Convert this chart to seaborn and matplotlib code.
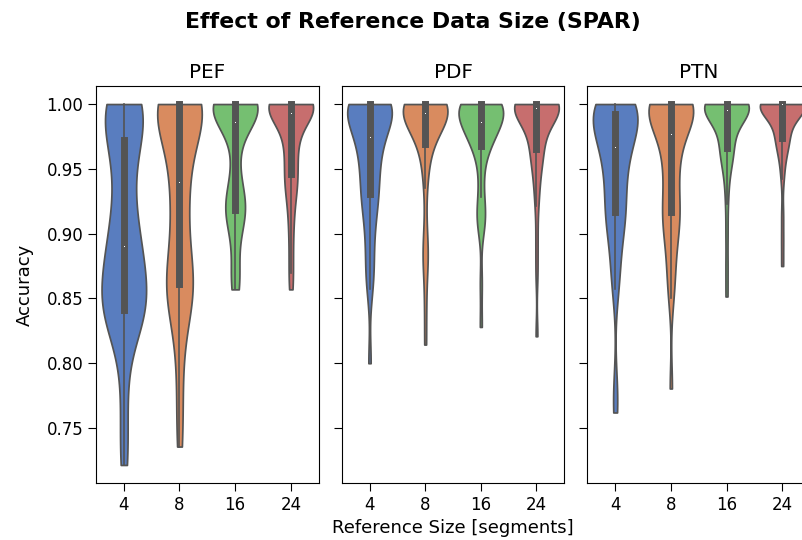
import matplotlib
matplotlib.use("Agg")
import matplotlib.pyplot as plt
import seaborn as sns
import pandas as pd

# ---- data (accuracy samples) ----
sizes = ["4", "8", "16", "24"]
panels = ["PEF", "PDF", "PTN"]

pef_4 = [0.7215, 0.74, 0.77, 0.80, 0.822, 0.832, 0.836, 0.838, 0.839, 0.84,
         0.841,
         0.846, 0.851, 0.856, 0.861, 0.866, 0.871, 0.875, 0.879, 0.884,
         0.8895,
         0.895, 0.901, 0.908, 0.916, 0.925, 0.936, 0.948, 0.958, 0.966,
         0.972,
         0.978, 0.984, 0.99, 0.995, 1.0, 1.0, 1.0, 1.0, 1.0, 1.0]
pef_8 = [0.7357, 0.758, 0.785, 0.81, 0.83, 0.84, 0.847, 0.852, 0.855, 0.858,
         0.861,
         0.865, 0.87, 0.876, 0.885, 0.895, 0.905, 0.915, 0.925, 0.933,
         0.939,
         0.948, 0.957, 0.965, 0.972, 0.978, 0.984, 0.99, 0.995, 0.998,
         1.0,
         1.0, 1.0, 1.0, 1.0, 1.0, 1.0, 1.0, 1.0, 1.0, 1.0]
pef_16 = [0.857, 0.86, 0.866, 0.876, 0.89, 0.902, 0.91, 0.914, 0.916, 0.917,
          0.918,
          0.922, 0.926, 0.93, 0.935, 0.94, 0.95, 0.965, 0.975, 0.98,
          0.985,
          0.988, 0.99, 0.993, 0.995, 0.997, 0.998, 1.0, 1.0, 1.0,
          1.0,
          1.0, 1.0, 1.0, 1.0, 1.0, 1.0, 1.0, 1.0, 1.0, 1.0]
pef_24 = [0.857, 0.87, 0.885, 0.9, 0.912, 0.922, 0.93, 0.936, 0.94, 0.943,
          0.946,
          0.952, 0.958, 0.963, 0.968, 0.972, 0.976, 0.98, 0.985, 0.989,
          0.992,
          0.994, 0.996, 0.998, 1.0, 1.0, 1.0, 1.0, 1.0, 1.0,
          1.0,
          1.0, 1.0, 1.0, 1.0, 1.0, 1.0, 1.0, 1.0, 1.0, 1.0]

pdf_4 = [0.80, 0.857, 0.866, 0.876, 0.887, 0.898, 0.908, 0.916, 0.922, 0.927,
         0.9305,
         0.935, 0.94, 0.945, 0.95, 0.955, 0.96, 0.964, 0.968, 0.971,
         0.974,
         0.977, 0.98, 0.983, 0.986, 0.989, 0.992, 0.995, 0.997, 0.999,
         1.0,
         1.0, 1.0, 1.0, 1.0, 1.0, 1.0, 1.0, 1.0, 1.0, 1.0]
pdf_8 = [0.8144, 0.845, 0.872, 0.882, 0.888, 0.905, 0.935, 0.948, 0.958, 0.964,
         0.9695,
         0.973, 0.977, 0.98, 0.983, 0.985, 0.987, 0.989, 0.99, 0.991,
         0.992,
         0.993, 0.994, 0.995, 0.996, 0.997, 0.998, 0.999, 1.0, 1.0,
         1.0,
         1.0, 1.0, 1.0, 1.0, 1.0, 1.0, 1.0, 1.0, 1.0, 1.0]
pdf_16 = [0.828, 0.862, 0.905, 0.91, 0.914, 0.917, 0.928, 0.94, 0.952, 0.962,
          0.9677,
          0.97, 0.972, 0.974, 0.976, 0.978, 0.98, 0.982, 0.983, 0.984,
          0.985,
          0.987, 0.989, 0.991, 0.993, 0.995, 0.997, 0.998, 0.999, 1.0,
          1.0,
          1.0, 1.0, 1.0, 1.0, 1.0, 1.0, 1.0, 1.0, 1.0, 1.0]
pdf_24 = [0.8208, 0.87, 0.895, 0.921, 0.932, 0.942, 0.95, 0.955, 0.96, 0.963,
          0.9656,
          0.969, 0.973, 0.977, 0.981, 0.985, 0.988, 0.991, 0.993, 0.995,
          0.996,
          0.997, 0.998, 0.999, 1.0, 1.0, 1.0, 1.0, 1.0, 1.0,
          1.0,
          1.0, 1.0, 1.0, 1.0, 1.0, 1.0, 1.0, 1.0, 1.0, 1.0]

ptn_4 = [0.762, 0.78, 0.857, 0.866, 0.877, 0.89, 0.90, 0.906, 0.911, 0.914,
         0.917,
         0.922, 0.928, 0.934, 0.94, 0.945, 0.95, 0.955, 0.959, 0.963,
         0.966,
         0.97, 0.974, 0.977, 0.98, 0.983, 0.985, 0.987, 0.989, 0.991,
         0.992,
         0.994, 0.996, 0.998, 1.0, 1.0, 1.0, 1.0, 1.0, 1.0, 1.0]
ptn_8 = [0.7805, 0.85, 0.862, 0.872, 0.884, 0.894, 0.901, 0.907, 0.912, 0.915,
         0.917,
         0.923, 0.93, 0.937, 0.944, 0.95, 0.956, 0.962, 0.967, 0.972,
         0.976,
         0.98, 0.984, 0.987, 0.99, 0.993, 0.995, 0.997, 0.999, 1.0,
         1.0,
         1.0, 1.0, 1.0, 1.0, 1.0, 1.0, 1.0, 1.0, 1.0, 1.0]
ptn_16 = [0.8515, 0.875, 0.90, 0.923, 0.938, 0.948, 0.955, 0.959, 0.962, 0.964,
          0.966,
          0.97, 0.974, 0.978, 0.982, 0.985, 0.988, 0.99, 0.992, 0.994,
          0.995,
          0.996, 0.997, 0.998, 0.999, 1.0, 1.0, 1.0, 1.0, 1.0,
          1.0,
          1.0, 1.0, 1.0, 1.0, 1.0, 1.0, 1.0, 1.0, 1.0, 1.0]
ptn_24 = [0.875, 0.895, 0.915, 0.942, 0.952, 0.96, 0.965, 0.968, 0.971, 0.973,
          0.974,
          0.977, 0.98, 0.983, 0.986, 0.989, 0.992, 0.994, 0.996, 0.998,
          0.999,
          1.0, 1.0, 1.0, 1.0, 1.0, 1.0, 1.0, 1.0, 1.0,
          1.0,
          1.0, 1.0, 1.0, 1.0, 1.0, 1.0, 1.0, 1.0, 1.0, 1.0]

groups = {
    "PEF": [pef_4, pef_8, pef_16, pef_24],
    "PDF": [pdf_4, pdf_8, pdf_16, pdf_24],
    "PTN": [ptn_4, ptn_8, ptn_16, ptn_24],
}

rows = []
for p in panels:
    for s, vals in zip(sizes, groups[p]):
        for v in vals:
            rows.append({"panel": p, "size": s, "acc": v})
df = pd.DataFrame(rows)

plt.rcParams["font.size"] = 12
plt.rcParams["font.family"] = ["DejaVu Sans"]
plt.rcParams["xtick.major.size"] = 5.5
plt.rcParams["ytick.major.size"] = 5.5

fig, axes = plt.subplots(1, 3, figsize=(8.03, 5.40), dpi=100, sharey=True)
fig.subplots_adjust(left=96 / 803, right=810 / 803, bottom=1 - 483 / 540,
                    top=1 - 86 / 540, wspace=0.1034)

for ax, p in zip(axes, panels):
    sub = df[df["panel"] == p]
    sns.violinplot(data=sub, x="size", y="acc", hue="size", order=sizes,
                   hue_order=sizes, palette="muted", cut=0,
                   density_norm="width", inner="box", bw_adjust=0.7,
                   inner_kws=dict(box_width=5, whis_width=1.2, marker=","),
                   legend=False, ax=ax)
    ax.set_title(p, fontsize=14.4)
    ax.set_xlabel("")
    ax.set_ylabel("")

axes[0].set_ylabel("Accuracy", fontsize=13, labelpad=9)
axes[1].set_xlabel("Reference Size [segments]", fontsize=13, labelpad=4)
fig.suptitle("Effect of Reference Data Size (SPAR)", fontweight="bold",
             x=413 / 803, y=0.978, fontsize=15.8)

fig.savefig("out.png", dpi=100)
